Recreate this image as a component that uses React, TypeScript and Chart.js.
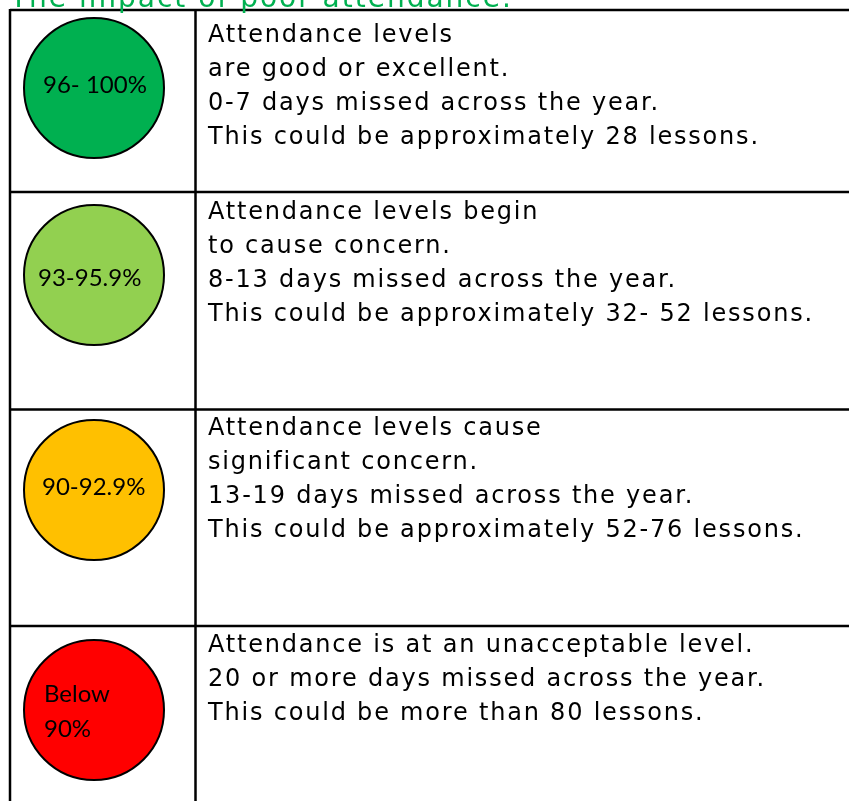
import React, { useEffect, useRef } from "react";
import { Chart, registerables } from "chart.js";

Chart.register(...registerables);

// ---- content ----
const titleText = "The impact of poor attendance.";
const bandLabels: string[][] = [["96- 100%"], ["93-95.9%"], ["90-92.9%"], ["Below", "90%"]];
const bandColors = ["#00B050", "#92D050", "#FFC000", "#FF0000"];
const descriptions: string[][] = [
  [
    "Attendance levels",
    "are good or excellent.",
    "0-7 days missed across the year.",
    "This could be approximately 28 lessons.",
  ],
  [
    "Attendance levels begin",
    "to cause concern.",
    "8-13 days missed across the year.",
    "This could be approximately 32- 52 lessons.",
  ],
  [
    "Attendance levels cause",
    "significant concern.",
    "13-19 days missed across the year.",
    "This could be approximately 52-76 lessons.",
  ],
  [
    "Attendance is at an unacceptable level.",
    "20 or more days missed across the year.",
    "This could be more than 80 lessons.",
  ],
];

// ---- layout (pixels) ----
const W = 849;
const H = 801;
const tableLeft = 10;
const tableTop = 10;
const colDivider = 195.5;
const rowLines = [192, 409.5, 626];
const circleX = 94;
const circleY = [88, 275, 490, 710];
const circleR = 70;
const labelX = [43, 38, 42, 44];
const labelBaseline = [93, 286, 495, 702];
const labelLineGap = 35;
const descX = 208;
const descBaseline = [42, 219, 435, 652];
const descLineGap = 34;

export default function App() {
  const ref = useRef<HTMLCanvasElement | null>(null);

  useEffect(() => {
    if (!ref.current) return;
    const tablePlugin = {
      id: "tablePlugin",
      beforeDatasetsDraw(chart: any) {
        const ctx = chart.ctx as CanvasRenderingContext2D;
        const xs = chart.scales.x;
        const ys = chart.scales.y;
        const px = (v: number) => xs.getPixelForValue(v);
        const py = (v: number) => ys.getPixelForValue(v);
        ctx.save();
        ctx.strokeStyle = "#000";
        ctx.lineWidth = 2.5;
        ctx.beginPath();
        ctx.moveTo(px(tableLeft), py(tableTop));
        ctx.lineTo(px(W + 5), py(tableTop));
        ctx.moveTo(px(tableLeft), py(tableTop - 1));
        ctx.lineTo(px(tableLeft), py(H + 5));
        ctx.moveTo(px(colDivider), py(tableTop - 1));
        ctx.lineTo(px(colDivider), py(H + 5));
        rowLines.forEach((y) => {
          ctx.moveTo(px(tableLeft - 1), py(y));
          ctx.lineTo(px(W + 5), py(y));
        });
        ctx.stroke();
        ctx.restore();
      },
      afterDatasetsDraw(chart: any) {
        const ctx = chart.ctx as CanvasRenderingContext2D;
        const xs = chart.scales.x;
        const ys = chart.scales.y;
        const px = (v: number) => xs.getPixelForValue(v);
        const py = (v: number) => ys.getPixelForValue(v);
        ctx.save();
        ctx.textAlign = "left";
        ctx.textBaseline = "alphabetic";
        // title (cut off at top)
        ctx.fillStyle = "#00B050";
        ctx.font = '28px "DejaVu Sans"';
        (ctx as any).letterSpacing = "2px";
        ctx.fillText(titleText, px(tableLeft), py(7));
        // descriptions
        ctx.fillStyle = "#000";
        ctx.font = '24px "DejaVu Sans"';
        (ctx as any).letterSpacing = "1.8px";
        descriptions.forEach((lines, i) => {
          lines.forEach((line, j) => {
            ctx.fillText(line, px(descX), py(descBaseline[i] + j * descLineGap));
          });
        });
        // circle labels
        (ctx as any).letterSpacing = "0px";
        ctx.fillStyle = "#000";
        ctx.font = '24px "Lato"';
        bandLabels.forEach((lines, i) => {
          lines.forEach((line, j) => {
            ctx.fillText(line, px(labelX[i]), py(labelBaseline[i] + j * labelLineGap));
          });
        });
        ctx.restore();
      },
    };

    const chart = new Chart(ref.current, {
      type: "scatter",
      data: {
        datasets: [
          {
            data: circleY.map((y) => ({ x: circleX, y })),
            pointRadius: circleR,
            pointHoverRadius: circleR,
            backgroundColor: bandColors,
            borderColor: "#000",
            borderWidth: 2,
            clip: false as any,
          },
        ],
      },
      options: {
        animation: false,
        responsive: false,
        events: [],
        layout: { padding: 0, autoPadding: false },
        plugins: { legend: { display: false }, tooltip: { enabled: false } },
        scales: {
          x: { type: "linear", min: 0, max: W, display: false },
          y: { type: "linear", min: 0, max: H, reverse: true, display: false },
        },
      },
      plugins: [tablePlugin],
    });
    return () => chart.destroy();
  }, []);

  return (
    <div style={{ position: "absolute", left: 0, top: 0, width: W, height: H, background: "#fff" }}>
      <canvas ref={ref} width={W} height={H} style={{ display: "block", width: W, height: H }} />
    </div>
  );
}
